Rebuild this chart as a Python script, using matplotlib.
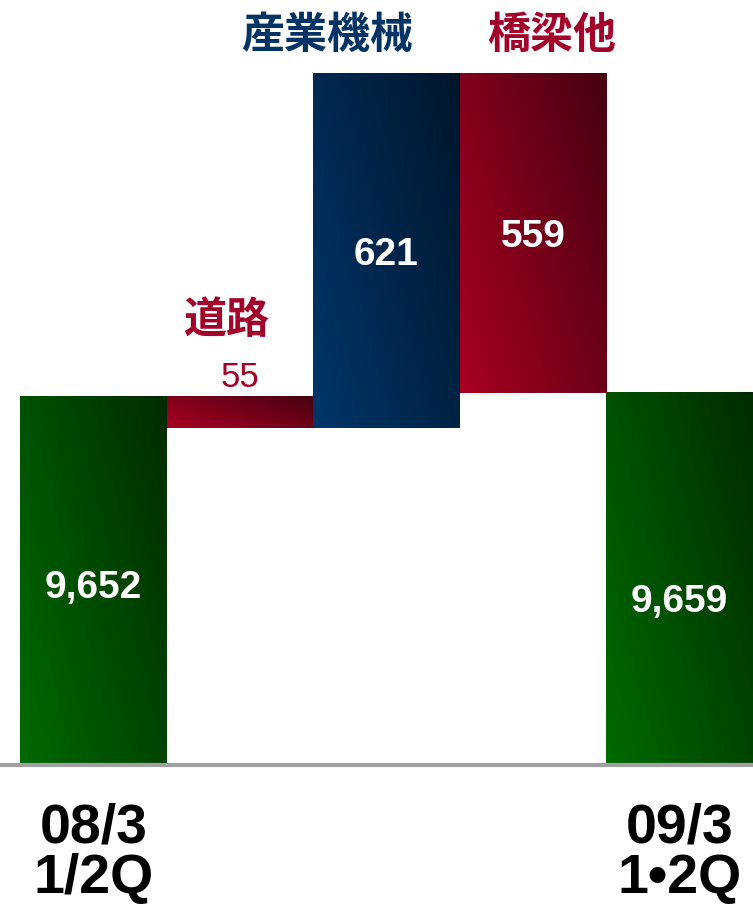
import numpy as np
import matplotlib.pyplot as plt
from matplotlib.colors import LinearSegmentedColormap

# waterfall: start total, changes by segment, end total
start_label = '08/3\n1/2Q'
end_label = '09/3\n1•2Q'
start_total = 9652
end_total = 9659
segments = ['道路', '産業機械', '橋梁他']
changes = [-55, 621, -559]
change_text = ['55', '621', '559']

YMIN = 9007
YMAX = 10347

green_cm = LinearSegmentedColormap.from_list('g', ['#006a00', '#002c00'])
red_cm = LinearSegmentedColormap.from_list('r', ['#a80022', '#470010'])
navy_cm = LinearSegmentedColormap.from_list('n', ['#00366a', '#00162c'])
red_txt = '#a3002a'
navy_txt = '#003366'

fig = plt.figure(figsize=(7.53, 9.05), dpi=100)
ax = fig.add_axes([0, 1 - 765 / 905, 1, 765 / 905])
ax.axis('off')

# gradient, light at bottom-left, dark at top-right
u, v = np.meshgrid(np.linspace(0, 1, 60), np.linspace(0, 1, 120))
grad = 0.6 * u + 0.4 * v


def gbar(x, y0, y1, cmap):
    ax.imshow(grad, cmap=cmap, extent=(x - 0.5, x + 0.5, y0, y1), origin='lower',
              aspect='auto', interpolation='bilinear', vmin=0, vmax=1, zorder=2)


# totals
gbar(0, YMIN, start_total, green_cm)
gbar(4, YMIN, end_total, green_cm)

level = start_total
tops = []
for i, d in enumerate(changes):
    lo, hi = sorted([level, level + d])
    gbar(i + 1, lo, hi, navy_cm if d > 0 else red_cm)
    tops.append(hi)
    level += d

ax.set_xlim(-0.5 - 20 / 146.6, 4.5)
ax.set_ylim(YMIN, YMAX)

num_font = dict(family='Liberation Sans', fontweight='bold', fontsize=28, color='white',
                ha='center', va='center', zorder=3, textcoords='offset points')
ax.annotate(f'{start_total:,}', (0, (YMIN + start_total) / 2), xytext=(0, -5), **num_font)
ax.annotate(f'{end_total:,}', (4, (YMIN + end_total) / 2), xytext=(0, -17), **num_font)

# segment values
ax.annotate(change_text[0], (1, tops[0]), xytext=(0, 14), textcoords='offset points',
            ha='center', va='center', fontsize=25, color=red_txt, family='Liberation Sans')
lo1 = start_total + changes[0]
ax.annotate(change_text[1], (2, (lo1 + tops[1]) / 2), xytext=(0, -3), **num_font)
ax.annotate(change_text[2], (3, (end_total + tops[2]) / 2), xytext=(0, -3), **num_font)

# segment names
cjk = dict(family=['Noto Sans CJK JP', 'DejaVu Sans'], fontweight='bold', fontsize=31,
           ha='center', va='center', textcoords='offset points')
ax.annotate(segments[0], (1, tops[0]), xytext=(-10, 55), color=red_txt, **cjk)
ax.annotate(segments[1], (2, tops[1]), xytext=(-43, 28), color=navy_txt, **cjk)
ax.annotate(segments[2], (3, tops[2]), xytext=(13, 28), color=red_txt, **cjk)

# base line
ax.plot([-1, 5], [YMIN, YMIN], color='#a0a0a0', lw=3, clip_on=False, zorder=4)

# x labels
xl = dict(family='Liberation Sans', fontweight='bold', fontsize=40, linespacing=0.95,
          ha='center', va='center', textcoords='offset points', color='black',
          annotation_clip=False)
ax.annotate(start_label, (0, YMIN), xytext=(0, -64), **xl)
ax.annotate(end_label, (4, YMIN), xytext=(0, -64), **xl)

fig.savefig('out.png', dpi=100)
